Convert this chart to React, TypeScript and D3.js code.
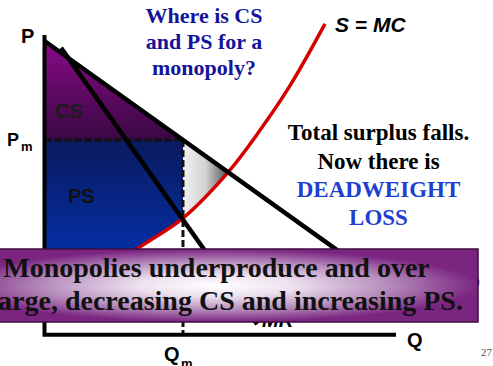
import React, { useRef, useEffect } from "react";
import * as d3 from "d3";

const width = 493;
const height = 366;

// curves, in axis units (0-100 on both axes)
const demandQ = [0, 95];
const demandP = [98, 18.4];
const mrQ = [4.7, 60.5];
const mrP = [95.7, 3.5];
const mcQ = [0, 13.8, 27.2, 39.4, 52.5, 61.3, 69.8, 79.8];
const mcP = [9.9, 18.6, 29.3, 38.9, 54.6, 68.2, 83, 103.7];
const monopolyQ = 39.4;
const monopolyP = 65;

const titleLines = ["Where is CS", "and PS for a", "monopoly?"];
const noteLines = ["Total surplus falls.", "Now there is"];
const dwlLines = ["DEADWEIGHT", "LOSS"];
const bannerLines = [
  "Monopolies underproduce and over",
  "charge, decreasing CS and increasing PS.",
];

const serif = "'Liberation Serif', 'Times New Roman', serif";
const sans = "'Liberation Sans', Arial, sans-serif";

const App = () => {
  const svgRef = useRef<SVGSVGElement>(null);

  useEffect(() => {
    const svg = d3.select(svgRef.current);
    const g = svg.append("g");

    const x = d3.scaleLinear().domain([0, 100]).range([44.5, 396]);
    const y = d3.scaleLinear().domain([0, 100]).range([334.7, 35]);

    const demand = d3.scaleLinear().domain(demandQ).range(demandP);
    const mc = d3.scaleLinear().domain(mcQ).range(mcP);

    // where MC meets demand
    let lo = monopolyQ;
    let hi = 79;
    for (let i = 0; i < 40; i++) {
      const mid = (lo + hi) / 2;
      if (mc(mid) < demand(mid)) lo = mid;
      else hi = mid;
    }
    const qStar = (lo + hi) / 2;

    const line = d3
      .line<[number, number]>()
      .x((d) => x(d[0]))
      .y((d) => y(d[1]));

    const defs = g.append("defs");
    const lin = (id, x2, y2, stops) => {
      const gr = defs
        .append("linearGradient")
        .attr("id", id)
        .attr("x1", 0)
        .attr("y1", 0)
        .attr("x2", x2)
        .attr("y2", y2);
      stops.forEach(([o, c]) => gr.append("stop").attr("offset", o).attr("stop-color", c));
    };
    lin("csGrad", 0, 1, [[0, "#880a88"], [1, "#3a0842"]]);
    lin("psGrad", 0, 1, [[0, "#0a1a5e"], [1, "#0038c4"]]);
    lin("dwlGrad", 1, 0, [[0, "#f2f2f2"], [0.5, "#d2d2d2"], [1, "#555555"]]);
    const rad = defs
      .append("radialGradient")
      .attr("id", "bannerGrad")
      .attr("cx", 0.5)
      .attr("cy", 0.5)
      .attr("r", 0.5);
    [
      [0, "#ffffff"],
      [0.3, "#ece0ee"],
      [0.65, "#b78fbd"],
      [1, "#7b2581"],
    ].forEach(([o, c]) => rad.append("stop").attr("offset", o).attr("stop-color", c));

    // CS
    g.append("path")
      .attr("d", line([[0, demandP[0]], [monopolyQ, monopolyP], [0, monopolyP]]) + "Z")
      .attr("fill", "url(#csGrad)");

    // PS, bounded below by MC
    const psPts: [number, number][] = [
      [0, monopolyP],
      [monopolyQ, monopolyP],
      [monopolyQ, mc(monopolyQ)],
    ];
    mcQ
      .map((q, i) => [q, mcP[i]] as [number, number])
      .filter((d) => d[0] < monopolyQ)
      .reverse()
      .forEach((d) => psPts.push(d));
    g.append("path").attr("d", line(psPts) + "Z").attr("fill", "url(#psGrad)");

    // deadweight loss
    g.append("path")
      .attr(
        "d",
        line([
          [monopolyQ, demand(monopolyQ)],
          [qStar, demand(qStar)],
          [monopolyQ, mc(monopolyQ)],
        ]) + "Z"
      )
      .attr("fill", "url(#dwlGrad)");

    // dashed guides
    g.append("path")
      .attr("d", line([[0, monopolyP], [monopolyQ, monopolyP]]))
      .attr("stroke", "#111")
      .attr("stroke-width", 3)
      .attr("stroke-dasharray", "7 3");
    g.append("path")
      .attr("d", line([[monopolyQ, monopolyP], [monopolyQ, 0]]))
      .attr("stroke", "#111")
      .attr("stroke-width", 3)
      .attr("stroke-dasharray", "7 3");

    // MC
    g.append("path")
      .attr(
        "d",
        line.curve(d3.curveCatmullRom)(mcQ.map((q, i) => [q, mcP[i]] as [number, number]))
      )
      .attr("fill", "none")
      .attr("stroke", "#d40000")
      .attr("stroke-width", 3.5);
    line.curve(d3.curveLinear);

    // demand and MR
    g.append("path")
      .attr("d", line(demandQ.map((q, i) => [q, demandP[i]] as [number, number])))
      .attr("stroke", "#000")
      .attr("stroke-width", 4.5);
    g.append("path")
      .attr("d", line(mrQ.map((q, i) => [q, mrP[i]] as [number, number])))
      .attr("stroke", "#000")
      .attr("stroke-width", 4.5);

    // axes
    g.append("path")
      .attr("d", line([[0, 100], [0, 0], [100, 0]]))
      .attr("fill", "none")
      .attr("stroke", "#000")
      .attr("stroke-width", 4);

    const text = (tx, ty, s, size, opts: any = {}) =>
      g
        .append("text")
        .attr("x", tx)
        .attr("y", ty)
        .attr("font-family", opts.family || sans)
        .attr("font-size", size)
        .attr("font-weight", "bold")
        .attr("font-style", opts.italic ? "italic" : "normal")
        .attr("text-anchor", opts.anchor || "start")
        .attr("fill", opts.fill || "#000")
        .text(s);

    text(21, 43, "P", 20);
    text(7, 146, "P", 18);
    text(21, 151, "m", 13);
    text(164, 361, "Q", 20);
    text(181, 368, "m", 13);
    text(407, 347, "Q", 20);
    text(55, 118, "CS", 20, { fill: "#1c1c1c" });
    text(68, 203, "PS", 20, { fill: "#111" });
    text(335, 32, "S = MC", 21, { italic: true });
    text(262, 327, "MR", 20, { italic: true });
    text(468, 289, "D", 16, { italic: true });

    titleLines.forEach((s, i) =>
      text(204, 23 + i * 26, s, 22, { family: serif, anchor: "middle", fill: "#14149a" })
    );
    noteLines.forEach((s, i) =>
      text(378.5, 140 + i * 28.5, s, 23, { family: serif, anchor: "middle" })
    );
    dwlLines.forEach((s, i) =>
      text(378.5, 197 + i * 28, s, 23, { family: serif, anchor: "middle", fill: "#1f3fd2" })
    );

    // banner
    g.append("rect")
      .attr("x", -46)
      .attr("y", 249)
      .attr("width", 524)
      .attr("height", 73)
      .attr("fill", "url(#bannerGrad)")
      .attr("stroke", "#3c0c40")
      .attr("stroke-width", 1.5);
    bannerLines.forEach((s, i) =>
      text(216.5, 277 + i * 33, s, 28, { family: serif, anchor: "middle", fill: "#111" })
    );

    g.append("text")
      .attr("x", 481)
      .attr("y", 356)
      .attr("font-family", serif)
      .attr("font-size", 11)
      .attr("fill", "#555")
      .text("27");

    return () => {
      g.remove();
    };
  }, []);

  return (
    <svg
      ref={svgRef}
      width={width}
      height={height}
      style={{ position: "absolute", left: 0, top: 0, background: "#fff" }}
    />
  );
};

export default App;
